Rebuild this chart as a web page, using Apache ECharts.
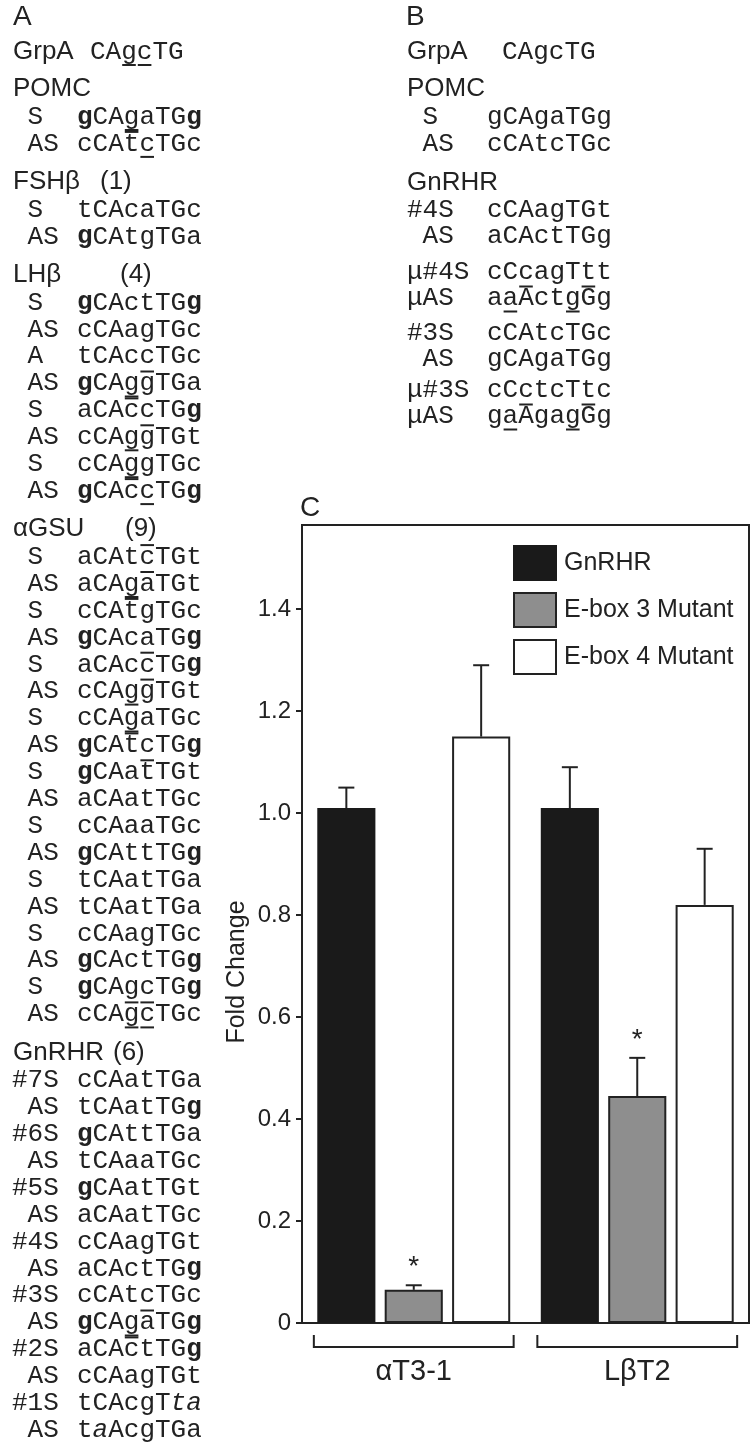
<!DOCTYPE html>
<html>
<head>
<meta charset="utf-8">
<script src="https://cdn.jsdelivr.net/npm/echarts@6/dist/echarts.min.js"></script>
<style>
  html, body { margin: 0; padding: 0; background: #fff; }
  #main { width: 750px; height: 1446px; }
</style>
</head>
<body>
<div id="main"></div>
<script>
// chart data (panel C)
const cats = ['αT3-1', 'LβT2'];
const seriesNames = ['GnRHR', 'E-box 3 Mutant', 'E-box 4 Mutant'];
const gnrhr = [1.01, 1.01];
const ebox3 = [0.065, 0.445];
const ebox4 = [1.15, 0.82];
const gnrhrErr = [1.05, 1.09];   // top of error bar
const ebox3Err = [0.074, 0.52];
const ebox4Err = [1.29, 0.93];
const gnrhrSig = [0, 0];
const ebox3Sig = [1, 1];
const ebox4Sig = [0, 0];
const yTicks = [0, 0.2, 0.4, 0.6, 0.8, 1.0, 1.2, 1.4];

// sequence panels: [label, seq, bold, italic, underline, overline]
const grpA = 'CAgcTG';
const pomcA = [
  [' S', 'gCAgaTGg', [0, 7], [], [3], []],
  [' AS', 'cCAtcTGc', [], [], [4], [3]]
];
const fshA = [
  [' S', 'tCAcaTGc', [], [], [], []],
  [' AS', 'gCAtgTGa', [0], [], [], []]
];
const lhA = [
  [' S', 'gCActTGg', [0, 7], [], [], []],
  [' AS', 'cCAagTGc', [], [], [], []],
  [' A', 'tCAccTGc', [], [], [], []],
  [' AS', 'gCAggTGa', [0], [], [3], [4]],
  [' S', 'aCAccTGg', [7], [], [], [3]],
  [' AS', 'cCAggTGt', [], [], [3], [4]],
  [' S', 'cCAggTGc', [], [], [3], []],
  [' AS', 'gCAccTGg', [0, 7], [], [4], [3]]
];
const agsuA = [
  [' S', 'aCAtcTGt', [], [], [], [4]],
  [' AS', 'aCAgaTGt', [], [], [3], [4]],
  [' S', 'cCAtgTGc', [], [], [], [3]],
  [' AS', 'gCAcaTGg', [0, 7], [], [], []],
  [' S', 'aCAccTGg', [7], [], [], [4]],
  [' AS', 'cCAggTGt', [], [], [3], [4]],
  [' S', 'cCAgaTGc', [], [], [3], []],
  [' AS', 'gCAtcTGg', [0, 7], [], [], [3]],
  [' S', 'gCAatTGt', [0], [], [], [4]],
  [' AS', 'aCAatTGc', [], [], [], []],
  [' S', 'cCAaaTGc', [], [], [], []],
  [' AS', 'gCAttTGg', [0, 7], [], [], []],
  [' S', 'tCAatTGa', [], [], [], []],
  [' AS', 'tCAatTGa', [], [], [], []],
  [' S', 'cCAagTGc', [], [], [], []],
  [' AS', 'gCActTGg', [0, 7], [], [], []],
  [' S', 'gCAgcTGg', [0, 7], [], [], []],
  [' AS', 'cCAgcTGc', [], [], [3, 4], [3, 4]]
];
const gnrhrA = [
  ['#7S', 'cCAatTGa', [], [], [], []],
  [' AS', 'tCAatTGg', [7], [], [], []],
  ['#6S', 'gCAttTGa', [0], [], [], []],
  [' AS', 'tCAaaTGc', [], [], [], []],
  ['#5S', 'gCAatTGt', [0], [], [], []],
  [' AS', 'aCAatTGc', [], [], [], []],
  ['#4S', 'cCAagTGt', [], [], [], []],
  [' AS', 'aCActTGg', [7], [], [], []],
  ['#3S', 'cCAtcTGc', [], [], [], []],
  [' AS', 'gCAgaTGg', [0, 7], [], [3], [4]],
  ['#2S', 'aCActTGg', [7], [], [], [3]],
  [' AS', 'cCAagTGt', [], [], [], []],
  ['#1S', 'tCAcgTta', [], [6, 7], [], []],
  [' AS', 'taAcgTGa', [], [1], [], []]
];
const pomcB = [
  [' S', 'gCAgaTGg', [], [], [], []],
  [' AS', 'cCAtcTGc', [], [], [], []]
];
const gnrhrB = [
  [['#4S', 'cCAagTGt', [], [], [], []], [' AS', 'aCActTGg', [], [], [], []]],
  [['μ#4S', 'cCcagTtt', [], [], [], []], ['μAS', 'aaActgGg', [], [], [1, 5], [2, 6]]],
  [['#3S', 'cCAtcTGc', [], [], [], []], [' AS', 'gCAgaTGg', [], [], [], []]],
  [['μ#3S', 'cCctcTtc', [], [], [], []], ['μAS', 'gaAgagGg', [], [], [1, 5], [2, 6]]]
];

const SANS = 'Liberation Sans, Arial, sans-serif';
const MONO = 'Liberation Mono, Courier New, monospace';
const INK = '#222';
const FS = 26, CW = 15.6;

const g = [];
function txt(x, y, text, size, family) {
  g.push({ type: 'text', x: x, y: y, silent: true,
    style: { text: text, fontSize: size, fontFamily: family, fill: INK, align: 'left', verticalAlign: 'middle' } });
}
function mark(x0, y, idx, dy) {
  idx.forEach(function (i) {
    g.push({ type: 'line', silent: true,
      shape: { x1: x0 + i * CW + 1, y1: y + dy, x2: x0 + (i + 1) * CW - 1, y2: y + dy },
      style: { stroke: INK, lineWidth: 2 } });
  });
}
function seqRow(lx, sx, y, r) {
  const seq = r[1];
  let s = '';
  for (let i = 0; i < seq.length; i++) {
    const k = r[2].indexOf(i) >= 0 ? 'b' : (r[3].indexOf(i) >= 0 ? 'i' : 'n');
    s += '{' + k + '|' + seq[i] + '}';
  }
  txt(lx, y, r[0], FS, MONO);
  g.push({ type: 'text', x: sx, y: y, silent: true,
    style: { text: s, fontSize: FS, fontFamily: MONO, fill: INK, align: 'left', verticalAlign: 'middle',
      rich: {
        n: { fontSize: FS, fontFamily: MONO, fill: INK },
        b: { fontSize: FS, fontFamily: MONO, fontWeight: 'bold', fill: INK },
        i: { fontSize: FS, fontFamily: MONO, fontStyle: 'italic', fill: INK }
      } } });
  mark(sx, y, r[4], 13);
  mark(sx, y, r[5], -12);
}

// panel A
const STEP = 26.9, HGAP = 38, FGAP = 28;
txt(13, 17, 'A', 28, SANS);
txt(13, 52, 'GrpA', 26, SANS);
txt(90, 52, grpA, FS, MONO);
mark(90, 52, [2, 3], 13);
let y = 89;
const blocksA = [
  ['POMC', '', 0, pomcA],
  ['FSHβ', '(1)', 100, fshA],
  ['LHβ', '(4)', 120, lhA],
  ['αGSU', '(9)', 125, agsuA],
  ['GnRHR', '(6)', 113, gnrhrA]
];
blocksA.forEach(function (b, bi) {
  if (bi > 0) y += HGAP;
  txt(13, y, b[0], 26, SANS);
  if (b[1]) txt(b[2], y, b[1], 26, SANS);
  y += FGAP;
  b[3].forEach(function (r, ri) {
    if (ri > 0) y += STEP;
    seqRow(12, 77, y, r);
  });
});

// panel B
txt(406, 17, 'B', 28, SANS);
txt(407, 52, 'GrpA', 26, SANS);
txt(502, 52, grpA, FS, MONO);
txt(407, 89, 'POMC', 26, SANS);
seqRow(407, 487, 117, pomcB[0]);
seqRow(407, 487, 144, pomcB[1]);
txt(407, 183, 'GnRHR', 26, SANS);
const pairY = [210, 272, 333, 390];
gnrhrB.forEach(function (p, i) {
  seqRow(407, 487, pairY[i], p[0]);
  seqRow(407, 487, pairY[i] + 26.5, p[1]);
});

// panel C labels
txt(300, 508, 'C', 28, SANS);
g.push({ type: 'text', x: 237, y: 972, rotation: Math.PI / 2, silent: true,
  style: { text: 'Fold Change', fontSize: 25, fontFamily: SANS, fill: INK, align: 'center', verticalAlign: 'middle' } });

const vals = [gnrhr, ebox3, ebox4];
const errs = [gnrhrErr, ebox3Err, ebox4Err];
const sigs = [gnrhrSig, ebox3Sig, ebox4Sig];
const fills = ['#1a1a1a', '#8e8e8e', '#ffffff'];
const errData = [];
for (let s = 0; s < 3; s++) {
  for (let c = 0; c < cats.length; c++) errData.push([c, vals[s][c], errs[s][c], s, sigs[s][c]]);
}
const BARW = 0.26, GAP = 0.16;

const chart = echarts.init(document.getElementById('main'));
const option = {
  animation: false,
  graphic: g,
  grid: { left: 302, right: 1, top: 525, bottom: 123, show: true, borderColor: INK, borderWidth: 2, backgroundColor: 'transparent' },
  legend: {
    data: seriesNames, orient: 'vertical', left: 508, top: 540, itemWidth: 42, itemHeight: 34, itemGap: 11,
    icon: 'rect', selectedMode: false,
    textStyle: { fontSize: 25, fontFamily: SANS, color: INK, padding: [0, 0, 0, 3] }
  },
  xAxis: {
    type: 'category', data: cats,
    axisLine: { lineStyle: { color: INK, width: 2 } },
    axisTick: { show: false },
    axisLabel: { fontSize: 29, fontFamily: SANS, color: INK, margin: 34 }
  },
  yAxis: {
    type: 'value', min: 0, max: 1.565,
    axisLine: { show: true, lineStyle: { color: INK, width: 2 } },
    axisTick: { show: true, length: 6, lineStyle: { color: INK, width: 2 }, customValues: yTicks },
    axisLabel: { fontSize: 24, fontFamily: SANS, color: INK, margin: 11, customValues: yTicks,
      formatter: function (v) { return v === 0 ? '0' : v.toFixed(1); } },
    splitLine: { show: false }
  },
  series: seriesNames.map(function (n, s) {
    return {
      name: n, type: 'bar', data: vals[s], barWidth: (BARW * 100) + '%', barGap: (GAP * 100) + '%',
      itemStyle: { color: fills[s], borderColor: s === 0 ? '#1a1a1a' : INK, borderWidth: 2 }
    };
  }).concat([
    {
      name: 'err', type: 'custom', data: errData, z: 5, clip: false,
      encode: { x: 0, y: 2 },
      renderItem: function (params, api) {
        const c = api.value(0), v = api.value(1), u = api.value(2), s = api.value(3), sig = api.value(4);
        const band = api.size([1, 0])[0];
        const bw = band * BARW;
        const x = api.coord([c, v])[0] + (s - 1) * bw * (1 + GAP);
        const y0 = api.coord([c, v])[1], y1 = api.coord([c, u])[1];
        const kids = [
          { type: 'line', shape: { x1: x, y1: y0, x2: x, y2: y1 }, style: { stroke: INK, lineWidth: 2 } },
          { type: 'line', shape: { x1: x - 8, y1: y1, x2: x + 8, y2: y1 }, style: { stroke: INK, lineWidth: 2 } }
        ];
        if (sig) kids.push({ type: 'text', style: { text: '*', x: x, y: y1 - 18, align: 'center', verticalAlign: 'middle', fontSize: 28, fontFamily: SANS, fill: INK } });
        return { type: 'group', children: kids };
      }
    },
    {
      name: 'bracket', type: 'custom', data: cats.map(function (c, i) { return [i, 0]; }), clip: false,
      renderItem: function (params, api) {
        const band = api.size([1, 0])[0];
        const p = api.coord([api.value(0), 0]);
        const h = band * 0.447;
        return { type: 'polyline', shape: { points: [[p[0] - h, p[1] + 12], [p[0] - h, p[1] + 24], [p[0] + h, p[1] + 24], [p[0] + h, p[1] + 12]] },
          style: { stroke: INK, lineWidth: 2, fill: null } };
      }
    }
  ])
};
chart.setOption(option);
</script>
</body>
</html>
